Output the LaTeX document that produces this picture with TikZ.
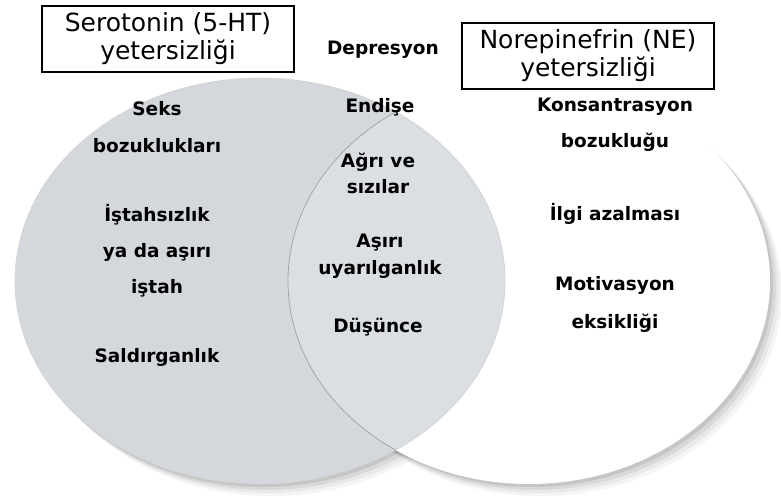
\documentclass[tikz,border=0pt]{standalone}
\usepackage{fontspec}
\setmainfont{DejaVu Sans}
\definecolor{serogrey}{RGB}{212,216,221}
\definecolor{lensgrey}{RGB}{219,222,226}
\newcommand{\lb}{\fontsize{18.5}{22}\bfseries\selectfont}
\newcommand{\bx}{\fontsize{25}{28}\selectfont}

\begin{document}
\begin{tikzpicture}[x=1pt,y=-1pt,
    lbl/.style={align=center,inner sep=0pt,font=\lb},
    titlebox/.style={draw,line width=1.4pt,align=center,font=\bx,
      minimum width=252pt,minimum height=66pt,inner sep=2pt,fill=white}]
     \useasboundingbox (0,0) rectangle (781,502);
     \def\rx{245} \def\ry{203}
     % soft shadows
     \foreach \d/\o in {12/0.04,9/0.05,6/0.07,3/0.09} {
      \fill[black,opacity=\o] (529+\d,281+\d) ellipse[x radius=241,y radius=\ry];
      \fill[black,opacity=\o] (260+\d,281+\d) ellipse[x radius=\rx,y radius=\ry];
     }
     \fill[white] (529,281) ellipse[x radius=241,y radius=\ry];
     \fill[serogrey] (260,281) ellipse[x radius=\rx,y radius=\ry];
     \begin{scope}
      \clip (260,281) ellipse[x radius=\rx,y radius=\ry];
      \fill[lensgrey] (529,281) ellipse[x radius=241,y radius=\ry];
      \draw[gray!70,line width=0.8pt] (529,281) ellipse[x radius=241,y radius=\ry];
     \end{scope}
     \draw[gray!35,line width=0.6pt] (260,281) ellipse[x radius=\rx,y radius=\ry];
     % title boxes
     \node[titlebox] (sero) at (168,39) {Serotonin (5-HT)\\yetersizliği};
     \node[titlebox] (nore) at (588,56) {Norepinefrin (NE)\\yetersizliği};
     % serotonin side
     \node[lbl] (seks)  at (157,127) {Seks\\[15pt]bozuklukları};
     \node[lbl] (istah) at (157,251) {İştahsızlık\\[14pt]ya da aşırı\\[14pt]iştah};
     \node[lbl] (sald)  at (157,357) {Saldırganlık};
     % both
     \node[lbl] (depr)  at (383,50)  {Depresyon};
     \node[lbl] (endi)  at (380,107) {Endişe};
     \node[lbl] (agri)  at (378,173) {Ağrı ve\\[4pt]sızılar};
     \node[lbl] (asir)  at (380,256) {Aşırı\\[5pt]uyarılganlık};
     \node[lbl] (dusu)  at (378,327) {Düşünce};
     % norepinefrin side
     \node[lbl] (kons)  at (615,125) {Konsantrasyon\\[14pt]bozukluğu};
     \node[lbl] (ilgi)  at (615,214) {İlgi azalması};
     \node[lbl] (moti)  at (615,304) {Motivasyon\\[16pt]eksikliği};
    \end{tikzpicture}
\end{document}
